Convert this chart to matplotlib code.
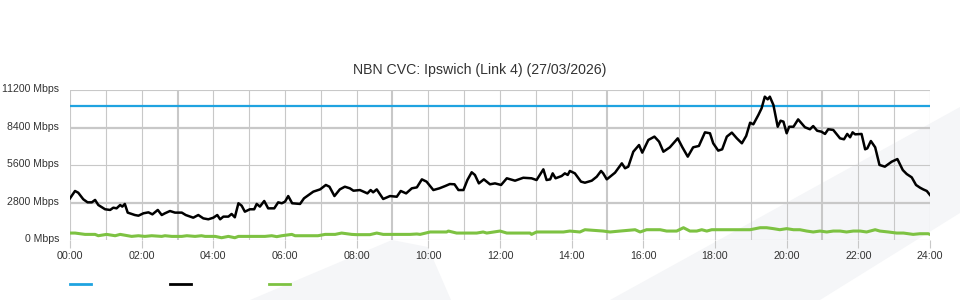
import matplotlib.pyplot as plt
from matplotlib.patches import Polygon
from matplotlib.lines import Line2D
from matplotlib.transforms import ScaledTranslation

# data (hours since midnight, Mbps)
title = 'NBN CVC: Ipswich (Link 4) (27/03/2026)'
capacity_mbps = 10000

down_hours = [0.00, 0.14, 0.23, 0.37, 0.49, 0.61, 0.70, 0.79, 0.98, 1.12, 1.21, 1.30,
              1.40, 1.46, 1.53, 1.61, 1.81, 1.91, 2.05, 2.19, 2.30, 2.45, 2.56, 2.65,
              2.79, 2.93, 3.12, 3.23, 3.44, 3.58, 3.72, 3.86, 4.00, 4.11, 4.19, 4.28,
              4.42, 4.51, 4.60, 4.70, 4.79, 4.88, 5.02, 5.14, 5.21, 5.30, 5.42, 5.53,
              5.70, 5.81, 5.91, 6.00, 6.09, 6.20, 6.42, 6.53, 6.79, 6.98, 7.14, 7.24,
              7.38, 7.53, 7.67, 7.81, 7.91, 8.09, 8.30, 8.39, 8.46, 8.56, 8.74, 8.93,
              9.12, 9.23, 9.38, 9.54, 9.68, 9.82, 9.95, 10.14, 10.31, 10.47, 10.60, 10.73,
              10.84, 10.98, 11.09, 11.21, 11.30, 11.41, 11.55, 11.72, 11.86, 12.03, 12.19, 12.42,
              12.65, 12.88, 13.02, 13.21, 13.30, 13.40, 13.47, 13.55, 13.72, 13.81, 13.89, 13.95,
              14.09, 14.26, 14.37, 14.56, 14.70, 14.82, 14.88, 14.98, 15.21, 15.40, 15.49, 15.58,
              15.72, 15.88, 15.97, 16.14, 16.31, 16.44, 16.56, 16.74, 16.96, 17.09, 17.24, 17.39,
              17.55, 17.72, 17.86, 17.95, 18.09, 18.20, 18.33, 18.47, 18.61, 18.75, 18.87, 18.98,
              19.07, 19.21, 19.30, 19.39, 19.47, 19.53, 19.63, 19.75, 19.83, 19.91, 20.00, 20.07,
              20.19, 20.32, 20.51, 20.65, 20.74, 20.85, 20.97, 21.07, 21.16, 21.30, 21.49, 21.60,
              21.69, 21.77, 21.84, 21.91, 22.09, 22.19, 22.25, 22.35, 22.47, 22.59, 22.74, 22.93,
              23.09, 23.24, 23.35, 23.49, 23.61, 23.72, 23.81, 23.91, 24.00]
down_mbps = [3120, 3670, 3540, 3050, 2820, 2820, 3000, 2620, 2300, 2250, 2420, 2370,
             2620, 2500, 2700, 2050, 1870, 1820, 2000, 2070, 1920, 2250, 1870, 2000,
             2170, 2050, 2050, 1870, 1670, 1870, 1620, 1550, 1670, 1870, 1550, 1750,
             1750, 1950, 1700, 2750, 2570, 2120, 2300, 2300, 2700, 2500, 2920, 2370,
             2370, 2820, 2750, 2870, 3290, 2750, 2700, 3120, 3620, 3790, 4120, 3990,
             3290, 3790, 3990, 3870, 3690, 3740, 3490, 3740, 3570, 3790, 3070, 3290,
             3240, 3670, 3490, 3870, 3940, 4540, 4370, 3740, 3870, 4040, 4190, 4170,
             3740, 3740, 4490, 5070, 4870, 4240, 4540, 4170, 4240, 4120, 4620, 4440,
             4660, 4620, 4490, 5290, 4490, 4540, 4990, 4620, 4790, 4990, 4870, 5170,
             4990, 4370, 4290, 4440, 4740, 5170, 4990, 4540, 5040, 5740, 5370, 5490,
             6610, 7110, 6540, 7490, 7740, 7360, 6610, 6940, 7610, 6940, 6240, 6940,
             7040, 8060, 7990, 7240, 6690, 6790, 7740, 8040, 7610, 7240, 7790, 8780,
             8660, 9360, 9860, 10730, 10530, 10730, 10110, 8480, 8930, 8860, 7990, 8480,
             8480, 9030, 8440, 8290, 8530, 8180, 8110, 7940, 8290, 8240, 7610, 7540,
             7940, 7690, 8060, 7910, 7940, 6790, 6860, 7410, 6940, 5620, 5490, 5860,
             6060, 5240, 4940, 4690, 4120, 3920, 3790, 3670, 3370]

up_hours = [0.00, 0.14, 0.42, 0.70, 0.79, 1.02, 1.26, 1.40, 1.72, 1.91, 2.09, 2.28,
            2.56, 2.65, 2.84, 3.12, 3.26, 3.49, 3.67, 3.77, 4.05, 4.23, 4.42, 4.60,
            4.70, 5.44, 5.63, 5.77, 5.91, 6.19, 6.28, 6.92, 7.12, 7.40, 7.58, 7.86,
            8.00, 8.37, 8.56, 8.74, 9.49, 9.68, 9.77, 10.05, 10.51, 10.56, 10.79, 11.35,
            11.53, 11.63, 12.00, 12.19, 12.84, 12.88, 13.02, 13.77, 13.95, 14.23, 14.37, 14.88,
            15.07, 15.35, 15.77, 15.91, 16.09, 16.47, 16.65, 16.93, 17.12, 17.30, 17.49, 17.63,
            17.77, 17.91, 18.14, 18.98, 19.26, 19.44, 19.63, 19.81, 20.00, 20.19, 20.37, 20.56,
            20.74, 20.93, 21.12, 21.30, 21.49, 21.67, 21.86, 22.05, 22.23, 22.47, 22.60, 22.84,
            23.07, 23.26, 23.53, 23.72, 23.95, 24.00]
up_mbps = [520, 520, 420, 420, 320, 420, 320, 420, 270, 320, 270, 320,
           270, 320, 270, 270, 320, 270, 320, 270, 270, 170, 270, 170,
           270, 270, 320, 250, 320, 420, 320, 320, 420, 420, 520, 420,
           400, 400, 520, 420, 420, 450, 420, 600, 600, 670, 520, 520,
           600, 520, 670, 520, 520, 420, 600, 600, 670, 600, 770, 670,
           600, 670, 770, 600, 770, 770, 670, 670, 920, 670, 670, 770,
           670, 770, 770, 770, 920, 920, 850, 770, 850, 770, 770, 670,
           600, 670, 600, 670, 670, 600, 670, 670, 600, 770, 670, 600,
           520, 520, 420, 470, 470, 420]

x_ticks = list(range(0, 25, 2))
x_labels = ['%02d:00' % h for h in x_ticks]
x_minor = list(range(1, 25, 2))
y_ticks = [0, 2800, 5600, 8400, 11200]
y_labels = ['%d Mbps' % v for v in y_ticks]

plt.rcParams['font.family'] = ['Liberation Sans', 'DejaVu Sans']
text_col = '#333333'
grid_col = '#c8c8c8'

fig = plt.figure(figsize=(9.6, 3.0), dpi=100)
fig.patch.set_facecolor('white')

# faint background shapes
for pts in ([(250, 300), (392, 240), (428, 247), (451, 300)],
            [(610, 300), (960, 107), (960, 213), (820, 300)]):
    poly = Polygon([(x / 960, 1 - y / 300) for x, y in pts], closed=True,
                   transform=fig.transFigure, facecolor='#f5f6f8', edgecolor='none', zorder=-5)
    fig.patches.append(poly)

ax = fig.add_axes([70 / 960, 60 / 300, 860 / 960, 149.6 / 300])
ax.set_facecolor('none')
ax.set_xlim(0, 24)
ax.set_ylim(0, 11200)

ax.set_xticks(x_ticks)
ax.set_xticklabels(x_labels)
ax.set_xticks(x_minor, minor=True)
ax.set_yticks(y_ticks)
ax.set_yticklabels(y_labels)

ax.grid(True, which='both', color=grid_col, linewidth=0.8, zorder=1)
for sp in ax.spines.values():
    sp.set_visible(False)
ax.tick_params(axis='x', which='major', length=6, color=grid_col, width=0.8,
               labelsize=7.7, labelcolor=text_col, pad=2)
ax.tick_params(axis='x', which='minor', length=0)
ax.tick_params(axis='y', length=0, labelsize=7.6, labelcolor=text_col, pad=8)
off = ScaledTranslation(0, 2 / 100, fig.dpi_scale_trans)
for lbl in ax.get_yticklabels():
    lbl.set_transform(lbl.get_transform() + off)

# a few grid lines render heavier in the original
for tick, v in zip(ax.yaxis.get_major_ticks(), y_ticks):
    if v in (2800, 8400):
        tick.gridline.set_linewidth(1.6)
for tick, h in zip(ax.xaxis.get_minor_ticks(), x_minor):
    if h % 6 == 3:
        tick.gridline.set_linewidth(1.5)

ax.axhline(capacity_mbps, color='#1fa3e0', linewidth=1.6, zorder=3)
ax.plot(down_hours, down_mbps, color='black', linewidth=1.8, zorder=4)
ax.plot(up_hours, up_mbps, color='#7dc242', linewidth=2.2, zorder=3)

ax.set_title(title, fontsize=10.2, color=text_col, x=(480 - 70) / 860, pad=12)

fig.legend([Line2D([], [], color='#1fa3e0', linewidth=2),
            Line2D([], [], color='black', linewidth=2),
            Line2D([], [], color='#7dc242', linewidth=2)],
           ['', '', ''], loc='center left', bbox_to_anchor=(70 / 960, 15 / 300),
           ncol=3, frameon=False, fontsize=10, handlelength=1.5, handletextpad=0,
           columnspacing=5.68, borderpad=0, borderaxespad=0)

fig.savefig('out.png', dpi=100)
